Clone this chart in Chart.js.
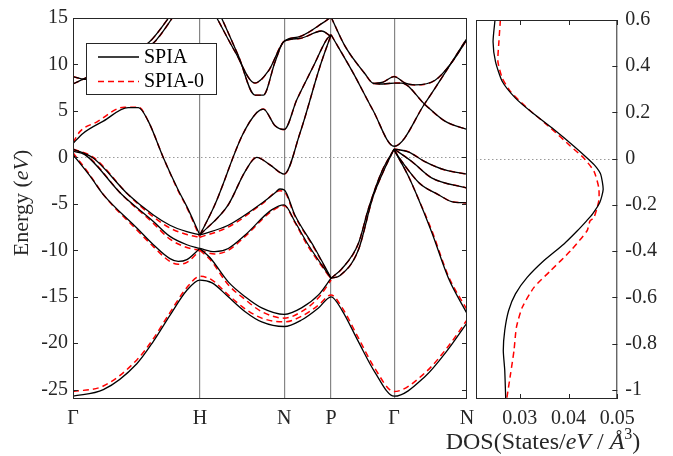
<!DOCTYPE html>
<html>
<head>
<meta charset="utf-8">
<script src="https://cdn.jsdelivr.net/npm/chart.js@4.4.1/dist/chart.umd.min.js"></script>
<style>
html, body { margin: 0; padding: 0; background: #fff; }
#wrap { position: relative; width: 673px; height: 456px; }
canvas { position: absolute; left: 0; top: 0; }
</style>
</head>
<body>
<div id="wrap">
  <canvas id="bands" width="673" height="456"></canvas>
  <canvas id="dos" width="673" height="456"></canvas>
</div>
<script>
// high symmetry points along the k-path (fraction of path length)
var kTicks = [0, 0.322, 0.536, 0.655, 0.815, 1];
var kLabels = ['Γ', 'H', 'N', 'P', 'Γ', 'N'];
var energyTicks = [-25, -20, -15, -10, -5, 0, 5, 10, 15];
var dosTicks = [0.03, 0.04, 0.05];
var dosEnergyTicks = [-1, -0.8, -0.6, -0.4, -0.2, 0, 0.2, 0.4, 0.6];

// SPIA bands, points are [k, energy in eV]
var b1 = [[0,-25.7],[0.077,-25.0],[0.162,-22.2],[0.204,-19.8],[0.246,-17.0],[0.289,-14.3],[0.322,-13.2],[0.353,-13.5],[0.394,-15.0],[0.437,-16.6],[0.479,-17.7],[0.536,-18.2],[0.58,-17.5],[0.623,-16.2],[0.655,-15.0],[0.682,-16.4],[0.724,-19.8],[0.766,-23.1],[0.815,-25.7],[0.893,-23.6],[0.953,-20.6],[1,-17.8]];
var b2 = [[0.322,-9.8],[0.348,-10.8],[0.394,-13.4],[0.437,-15.0],[0.479,-16.2],[0.536,-16.9],[0.58,-16.2],[0.623,-14.8],[0.655,-13.0]];
var b3 = [[0.322,-9.8],[0.36,-10.15],[0.394,-9.8],[0.437,-8.35],[0.504,-5.65],[0.536,-5.1],[0.563,-6.9],[0.597,-9.4],[0.655,-13.0]];
var b4 = [[0.322,-8.35],[0.394,-7.3],[0.48,-4.9],[0.513,-3.8],[0.525,-3.4],[0.536,-3.5],[0.563,-6.2],[0.614,-9.8],[0.655,-13.0]];
var bA = [[0,0.3],[0.043,-2.0],[0.077,-4.0],[0.162,-7.6],[0.204,-9.4],[0.246,-10.9],[0.267,-11.2],[0.289,-11.0],[0.322,-9.8]];
var bB = [[0,0.65],[0.03,0.3],[0.124,-4.0],[0.204,-6.9],[0.246,-8.5],[0.289,-9.4],[0.322,-9.8]];
var bC = [[0,0.9],[0.052,-0.1],[0.14,-4.0],[0.204,-6.2],[0.246,-7.3],[0.289,-8.0],[0.322,-8.35]];
var bD = [[0,1.5],[0.026,2.6],[0.077,3.9],[0.14,5.35],[0.166,5.35],[0.191,3.9],[0.229,0],[0.267,-3.5],[0.289,-5.3],[0.322,-8.35]];
var bE1 = [[0,7.9],[0.03,8.5],[0.191,12.3],[0.239,14.8],[0.26,16.2]];
var bE2 = [[0,8.7],[0.03,8.4],[0.204,12.3],[0.252,15.0],[0.27,16.2]];
var bX = [[0.322,-8.35],[0.36,-5.1],[0.43,2.4],[0.466,4.8],[0.483,5.2],[0.513,3.4],[0.536,3.0],[0.568,6.2],[0.61,9.8],[0.644,12.7],[0.655,13.2]];
var bY = [[0.322,-8.35],[0.394,-5.1],[0.437,-1.5],[0.466,0.0],[0.5,-0.8],[0.536,-1.8],[0.576,2.6],[0.627,9.8],[0.655,13.2]];
var bV1 = [[0.345,16.5],[0.365,15.0],[0.411,11.4],[0.462,8.0],[0.496,9.3],[0.536,12.5],[0.576,13.0],[0.635,14.5],[0.655,15.1]];
var bV2 = [[0.36,16.5],[0.377,15.0],[0.42,10.9],[0.462,6.7],[0.483,6.7],[0.513,10.3],[0.536,12.5],[0.576,12.8],[0.631,13.6],[0.655,13.0]];
var bT1 = [[0.655,15.1],[0.69,12.0],[0.741,9.0],[0.761,8.0],[0.787,7.9],[0.815,8.0],[0.834,8.0],[0.893,5.7],[0.944,3.9],[1,3.0]];
var bT2 = [[0.655,13.2],[0.711,9.1],[0.761,5.1],[0.815,1.2],[0.893,5.8],[1,12.8]];
var bT3 = [[0.761,7.95],[0.787,8.1],[0.815,8.7],[0.843,8.0],[0.868,7.8],[0.919,8.3],[0.961,10.2],[1,12.7]];
var bR1 = [[0.655,-13.0],[0.682,-12.0],[0.724,-9.3],[0.75,-5.5],[0.784,-1.5],[0.815,0.9]];
var bR2 = [[0.655,-13.0],[0.678,-12.7],[0.724,-10.0],[0.761,-4.3],[0.79,-1.3],[0.815,0.9]];
var bG1 = [[0.815,0.9],[0.851,0.6],[0.893,-0.45],[0.944,-1.35],[1,-1.8]];
var bG2 = [[0.815,0.9],[0.86,-0.45],[0.91,-2.2],[1,-3.3]];
var bG3 = [[0.815,0.8],[0.834,-0.4],[0.88,-2.8],[0.927,-4.0],[0.961,-4.75],[1,-4.9]];
var bG4 = [[0.815,0.8],[0.851,-2.0],[0.872,-4.0],[0.91,-8.0],[0.953,-13.0],[1,-16.8]];

// SPIA-0 bands that differ visibly from SPIA
var r1 = [[0,-25.2],[0.077,-24.6],[0.162,-21.8],[0.204,-19.5],[0.246,-16.7],[0.289,-14.0],[0.322,-12.8],[0.353,-13.2],[0.394,-14.8],[0.437,-16.3],[0.479,-17.3],[0.536,-17.7],[0.58,-17.1],[0.623,-15.9],[0.655,-14.8],[0.682,-16.1],[0.724,-19.4],[0.766,-22.7],[0.815,-25.2],[0.893,-23.2],[0.953,-20.3],[1,-17.5]];
var r2 = [[0.322,-10.0],[0.348,-11.0],[0.394,-13.7],[0.437,-15.3],[0.479,-16.6],[0.536,-17.3],[0.58,-16.6],[0.623,-15.1],[0.655,-13.2]];
var r3 = [[0.322,-10.0],[0.36,-10.4],[0.394,-10.0],[0.437,-8.5],[0.504,-5.8],[0.536,-5.2],[0.563,-7.0],[0.597,-9.6],[0.655,-13.1]];
var r4 = [[0.322,-8.6],[0.394,-7.5],[0.48,-5.0],[0.525,-3.6],[0.536,-3.7],[0.563,-6.3],[0.614,-9.9],[0.655,-13.1]];
var rA = [[0,0.5],[0.043,-1.9],[0.077,-4.0],[0.162,-7.8],[0.204,-9.6],[0.246,-11.2],[0.267,-11.5],[0.289,-11.3],[0.322,-10.0]];
var rB = [[0,0.8],[0.03,0.4],[0.124,-4.0],[0.204,-7.1],[0.246,-8.8],[0.289,-9.7],[0.322,-10.0]];
var rC = [[0,0.9],[0.052,0.0],[0.14,-4.0],[0.204,-6.4],[0.246,-7.6],[0.289,-8.3],[0.322,-8.6]];
var rD = [[0,1.6],[0.018,2.8],[0.06,3.8],[0.13,5.4],[0.166,5.4],[0.191,3.9],[0.229,0],[0.267,-3.6],[0.289,-5.4],[0.322,-8.6]];
var rG4 = [[0.815,0.8],[0.851,-2.0],[0.872,-4.0],[0.91,-7.8],[0.953,-12.8],[1,-16.4]];

var spiaBands = [b1, b2, b3, b4, bA, bB, bC, bD, bE1, bE2, bX, bY, bV1, bV2, bT1, bT2, bT3, bR1, bR2, bG1, bG2, bG3, bG4];
var spia0Bands = [r1, r2, r3, r4, rA, rB, rC, rD, bE1, bE2, bX, bY, bV1, bV2, bT1, bT2, bT3, bR1, bR2, bG1, bG2, bG3, rG4];

// density of states, points are [DOS, energy on right axis]
var dosSpia = [[0.0249,0.6],[0.0245,0.506],[0.025,0.42],[0.0264,0.334],[0.0291,0.262],[0.0322,0.205],[0.037,0.126],[0.0411,0.054],[0.0438,0.003],[0.0455,-0.032],[0.0466,-0.068],[0.0471,-0.133],[0.0464,-0.19],[0.0449,-0.24],[0.0437,-0.269],[0.0418,-0.312],[0.039,-0.37],[0.0349,-0.442],[0.0315,-0.514],[0.0291,-0.585],[0.0277,-0.657],[0.0269,-0.743],[0.0266,-0.83],[0.0269,-0.916],[0.0271,-1.04]];
var dosSpia0 = [[0.026,0.6],[0.0257,0.506],[0.0255,0.42],[0.0264,0.348],[0.0281,0.29],[0.0315,0.219],[0.0363,0.133],[0.0404,0.054],[0.0431,0.003],[0.0452,-0.054],[0.0462,-0.126],[0.0462,-0.183],[0.0452,-0.255],[0.0444,-0.269],[0.0438,-0.312],[0.0404,-0.399],[0.0363,-0.485],[0.0329,-0.557],[0.0305,-0.643],[0.0293,-0.729],[0.0288,-0.83],[0.0281,-0.93],[0.0273,-1.04]];

var axisColor = '#262626';
var serif = "'Liberation Serif', 'DejaVu Serif', serif";
var tickFont = { family: serif, size: 20 };

function toXY(arr) {
  return arr.map(function (p) { return { x: p[0], y: p[1] }; });
}

function lineSet(arr, label, color, dash, width) {
  return {
    label: label,
    data: toXY(arr),
    showLine: true,
    borderColor: color,
    borderWidth: width,
    borderDash: dash,
    pointRadius: 0,
    fill: false
  };
}

// draws text pieces next to each other, some in italics
function drawParts(ctx, parts, x, y, size) {
  var total = 0;
  parts.forEach(function (p) {
    ctx.font = (p.it ? 'italic ' : '') + (p.size || size) + 'px ' + serif;
    p.w = ctx.measureText(p.t).width;
    total += p.w;
  });
  var cx = x - total / 2;
  parts.forEach(function (p) {
    ctx.font = (p.it ? 'italic ' : '') + (p.size || size) + 'px ' + serif;
    ctx.fillText(p.t, cx, y + (p.dy || 0));
    cx += p.w;
  });
}

function inwardTicksY(ctx, area, scale, values, left, right) {
  values.forEach(function (v) {
    var y = Math.round(scale.getPixelForValue(v)) + 0.5;
    ctx.beginPath();
    if (left) { ctx.moveTo(area.left, y); ctx.lineTo(area.left + 5, y); }
    if (right) { ctx.moveTo(area.right - 5, y); ctx.lineTo(area.right, y); }
    ctx.stroke();
  });
}

function zeroLine(ctx, area, yScale) {
  var y = Math.round(yScale.getPixelForValue(0)) + 0.5;
  ctx.save();
  ctx.strokeStyle = '#9a9a9a';
  ctx.lineWidth = 1;
  ctx.setLineDash([1.5, 2.5]);
  ctx.beginPath();
  ctx.moveTo(area.left, y);
  ctx.lineTo(area.right, y);
  ctx.stroke();
  ctx.restore();
}

var bandDecor = {
  id: 'bandDecor',
  beforeDatasetsDraw: function (chart) {
    zeroLine(chart.ctx, chart.chartArea, chart.scales.y);
  },
  afterDatasetsDraw: function (chart) {
    var ctx = chart.ctx, a = chart.chartArea;
    ctx.save();
    ctx.strokeStyle = axisColor;
    ctx.lineWidth = 1;
    inwardTicksY(ctx, a, chart.scales.y, energyTicks, true, true);
    ctx.strokeRect(a.left + 0.5, a.top + 0.5, a.right - a.left - 1, a.bottom - a.top - 1);

    // legend
    ctx.fillStyle = '#fff';
    ctx.fillRect(86, 43, 131, 51);
    ctx.strokeRect(86.5, 43.5, 130, 51);
    ctx.lineWidth = 1.3;
    ctx.strokeStyle = '#000';
    ctx.beginPath(); ctx.moveTo(98, 57); ctx.lineTo(139, 57); ctx.stroke();
    ctx.strokeStyle = '#ff0000';
    ctx.lineWidth = 1.5;
    ctx.setLineDash([6, 4]);
    ctx.beginPath(); ctx.moveTo(98, 81.5); ctx.lineTo(139, 81.5); ctx.stroke();
    ctx.setLineDash([]);
    ctx.fillStyle = '#000';
    ctx.font = '20px ' + serif;
    ctx.textBaseline = 'middle';
    ctx.textAlign = 'left';
    ctx.fillText('SPIA', 144, 58);
    ctx.fillText('SPIA-0', 144, 82);

    // y axis title
    ctx.save();
    ctx.translate(22, 203);
    ctx.rotate(-Math.PI / 2);
    ctx.fillStyle = axisColor;
    ctx.textBaseline = 'middle';
    drawParts(ctx, [{ t: 'Energy (' }, { t: 'eV', it: true }, { t: ')' }], 0, 0, 22);
    ctx.restore();
    ctx.restore();
  }
};

var dosDecor = {
  id: 'dosDecor',
  beforeDatasetsDraw: function (chart) {
    zeroLine(chart.ctx, chart.chartArea, chart.scales.y);
  },
  afterDatasetsDraw: function (chart) {
    var ctx = chart.ctx, a = chart.chartArea;
    ctx.save();
    ctx.strokeStyle = axisColor;
    ctx.lineWidth = 1;
    inwardTicksY(ctx, a, chart.scales.y, dosEnergyTicks, false, true);
    dosTicks.forEach(function (v) {
      var x = Math.round(chart.scales.x.getPixelForValue(v)) + 0.5;
      ctx.beginPath();
      ctx.moveTo(x, a.bottom); ctx.lineTo(x, a.bottom - 5);
      ctx.moveTo(x, a.top); ctx.lineTo(x, a.top + 5);
      ctx.stroke();
    });
    ctx.strokeRect(a.left + 0.5, a.top + 0.5, a.right - a.left - 1, a.bottom - a.top - 1);

    // x axis title
    ctx.fillStyle = axisColor;
    ctx.textBaseline = 'alphabetic';
    ctx.textAlign = 'left';
    drawParts(ctx, [
      { t: 'DOS(States/' }, { t: 'eV', it: true }, { t: ' / ' }, { t: 'Å', it: true },
      { t: '3', size: 16, dy: -10 }, { t: ')' }
    ], 543, 449, 24);
    ctx.restore();
  }
};

var bandSets = spiaBands.map(function (b) { return lineSet(b, 'SPIA', '#000000', [], 1.3); })
  .concat(spia0Bands.map(function (b) { return lineSet(b, 'SPIA-0', '#ff0000', [6, 4], 1.5); }));
bandSets.forEach(function (d) { d.cubicInterpolationMode = 'monotone'; });

new Chart(document.getElementById('bands'), {
  type: 'scatter',
  data: { datasets: bandSets },
  options: {
    responsive: false,
    animation: false,
    events: [],
    layout: { padding: { left: 0, top: 18, right: 206, bottom: 0 } },
    plugins: { legend: { display: false }, tooltip: { enabled: false } },
    scales: {
      x: {
        type: 'linear', min: 0, max: 1,
        afterBuildTicks: function (s) { s.ticks = kTicks.map(function (v) { return { value: v }; }); },
        afterFit: function (s) { s.height = 57; },
        ticks: {
          autoSkip: false, maxRotation: 0, padding: 8, color: axisColor, font: tickFont,
          callback: function (v, i) { return kLabels[i]; }
        },
        grid: {
          drawTicks: false, lineWidth: 1.2,
          color: function (c) { return (c.tick && c.tick.value > 0 && c.tick.value < 1) ? '#858585' : 'rgba(0,0,0,0)'; }
        },
        border: { display: false }
      },
      y: {
        type: 'linear', min: -26, max: 15,
        afterBuildTicks: function (s) { s.ticks = energyTicks.map(function (v) { return { value: v }; }); },
        afterFit: function (s) { s.width = 73; },
        ticks: { padding: 5, color: axisColor, font: tickFont, callback: function (v) { return String(v); } },
        grid: { display: false, drawTicks: false },
        border: { display: false }
      }
    }
  },
  plugins: [bandDecor]
});

var dosSets = [lineSet(dosSpia, 'SPIA', '#000000', [], 1.3), lineSet(dosSpia0, 'SPIA-0', '#ff0000', [6, 4], 1.5)];
dosSets.forEach(function (d) { d.tension = 0.2; });

new Chart(document.getElementById('dos'), {
  type: 'scatter',
  data: { datasets: dosSets },
  options: {
    responsive: false,
    animation: false,
    events: [],
    layout: { padding: { left: 476, top: 18, right: 0, bottom: 0 } },
    plugins: { legend: { display: false }, tooltip: { enabled: false } },
    scales: {
      x: {
        type: 'linear', min: 0.021, max: 0.05,
        afterBuildTicks: function (s) { s.ticks = dosTicks.map(function (v) { return { value: v }; }); },
        afterFit: function (s) { s.height = 57; },
        ticks: { autoSkip: false, maxRotation: 0, padding: 8, color: axisColor, font: tickFont,
          callback: function (v) { return v.toFixed(2); } },
        grid: { display: false, drawTicks: false },
        border: { display: false }
      },
      y: {
        type: 'linear', position: 'right', min: -1.04, max: 0.6,
        afterBuildTicks: function (s) { s.ticks = dosEnergyTicks.map(function (v) { return { value: v }; }); },
        afterFit: function (s) { s.width = 55.7; },
        ticks: { padding: 8, color: axisColor, font: tickFont, callback: function (v) { return String(v); } },
        grid: { display: false, drawTicks: false },
        border: { display: false }
      }
    }
  },
  plugins: [dosDecor]
});
</script>
</body>
</html>
